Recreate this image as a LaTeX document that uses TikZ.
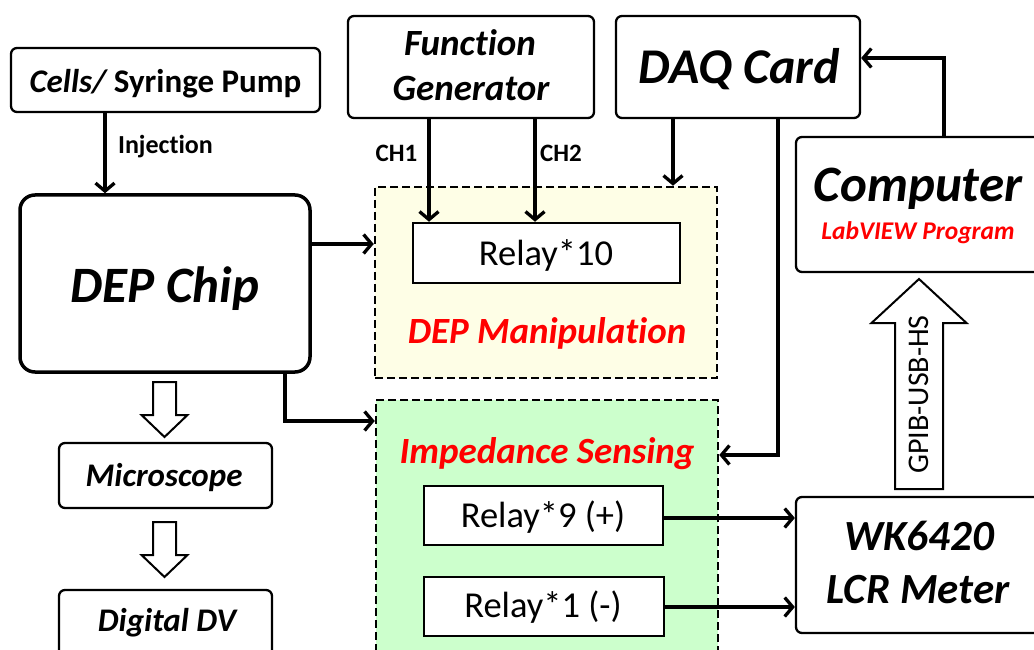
\documentclass[tikz,border=0pt]{standalone}
\usepackage{fontspec}
\setmainfont{Carlito}[Ligatures=NoCommon]
\usetikzlibrary{arrows.meta}
\definecolor{manipfill}{HTML}{FEFEE6}
\definecolor{impfill}{HTML}{CCFFCC}
\definecolor{labred}{HTML}{FF0000}
\newcommand{\fsz}[1]{\fontsize{#1}{#1}\selectfont}
\tikzset{
  box/.style={draw,line width=2.3pt,rounded corners=6pt,inner sep=0pt,fill=white},
  bigbox/.style={draw,line width=3.5pt,rounded corners=15pt,inner sep=0pt,fill=white},
  lbl/.style={inner sep=0pt,anchor=base},
  bi/.style={font=\bfseries\itshape\fsz{#1}},
  conn/.style={line width=3.3pt,-{Straight Barb[length=8pt,width=19pt]}},
  group/.style={draw,line width=2.5pt,dash pattern=on 8pt off 4pt,inner sep=0pt},
  relaybox/.style={draw,line width=2.5pt,inner sep=0pt,fill=white},
  hollowline/.style={draw,line width=2pt,fill=white,line join=miter},
  pics/downarrow/.style={code={
    \draw[hollowline] (-11.5,0) -- (11.5,0) -- (11.5,33) -- (23,33) -- (0,55) -- (-23,33) -- (-11.5,33) -- cycle;}},
  pics/uparrow/.style={code={
    \draw[hollowline] (-24,0) -- (24,0) -- (24,-166) -- (47.5,-166) -- (0,-210) -- (-47.5,-166) -- (-24,-166) -- cycle;}}
}
\begin{document}
\begin{tikzpicture}[x=1pt,y=-1pt]
\useasboundingbox (0,0) rectangle (1034,650);
\clip (0,0) rectangle (1034,650);
% groups
\node[group,fill=manipfill,minimum width=342pt,minimum height=191pt] (manip) at (546,282.5) {};
\node[group,fill=impfill,minimum width=342pt,minimum height=260pt] (imp) at (547,530) {};
% boxes
\node[box,minimum width=309pt,minimum height=64pt] (pump) at (165.5,80) {};
\node[bigbox,minimum width=290pt,minimum height=177pt] (chip) at (165,283.5) {};
\node[box,minimum width=246pt,minimum height=102pt] (fg) at (471,67) {};
\node[box,minimum width=244pt,minimum height=102pt] (daq) at (738,67) {};
\node[box,minimum width=244pt,minimum height=135pt] (comp) at (918,204.5) {};
\node[relaybox,minimum width=267pt,minimum height=60pt] (r10) at (546.5,253) {};
\node[relaybox,minimum width=239pt,minimum height=59pt] (r9) at (543.5,515.5) {};
\node[relaybox,minimum width=240pt,minimum height=59pt] (r1) at (544,606.5) {};
\node[box,minimum width=213pt,minimum height=65pt] (micro) at (165.5,475.5) {};
\node[box,minimum width=213pt,minimum height=70pt] (ddv) at (165.5,625) {};
\node[box,minimum width=244pt,minimum height=136pt] (lcr) at (918,565) {};
% labels
\node[lbl,font=\bfseries\fsz{33}] (pumpT) at (165.5,93) {\itshape Cells/\upshape\ Syringe Pump};
\node[lbl,bi=37] (fgT1) at (470,56) {Function};
\node[lbl,bi=37] (fgT2) at (471,101) {Generator};
\node[lbl,bi=50] (daqT) at (739,84) {DAQ Card};
\node[lbl,bi=51] (compT) at (918,201) {Computer};
\node[lbl,bi=25.5,text=labred] (compT2) at (918,239) {LabVIEW Program};
\node[lbl,bi=51] (chipT) at (165,302) {DEP Chip};
\node[lbl,font=\fsz{36.5}] (r10T) at (546,265) {Relay*10};
\node[lbl,bi=37,text=labred] (manipT) at (547,343) {DEP Manipulation};
\node[lbl,bi=37,text=labred] (impT) at (547,463) {Impedance Sensing};
\node[lbl,font=\fsz{36.5}] (r9T) at (543,527) {Relay*9 (+)};
\node[lbl,font=\fsz{36.5}] (r1T) at (543,617) {Relay*1 (-)};
\node[lbl,bi=33] (microT) at (164,486) {Microscope};
\node[lbl,bi=33] (ddvT) at (167,631) {Digital DV};
\node[lbl,bi=43] (lcrT1) at (919,550) {WK6420};
\node[lbl,bi=43] (lcrT2) at (918,603) {LCR Meter};
% hollow arrows
\pic at (164.5,382) {downarrow};
\pic at (164.5,522) {downarrow};
\pic at (919,489) {uparrow};
\node[rotate=90,inner sep=0pt,font=\fsz{30}] (gpibT) at (919,394.5) {GPIB-USB-HS};
% connectors
\draw[conn] (105,0 |- pump.south) -- (105,0 |- chip.north);
\node[lbl,font=\bfseries\fsz{26}] (injT) at (165.5,154) {Injection};
\draw[conn] (429,0 |- fg.south) -- (429,0 |- r10.north);
\draw[conn] (535,0 |- fg.south) -- (535,0 |- r10.north);
\node[lbl,font=\bfseries\fsz{25}] (ch1) at (396.5,161) {CH1};
\node[lbl,font=\bfseries\fsz{25}] (ch2) at (561,161) {CH2};
\draw[conn] (673,0 |- daq.south) -- (673,0 |- manip.north);
\draw[conn] (778,0 |- daq.south) |- (imp.east |- 0,455);
\draw[conn] (944,0 |- comp.north) |- (daq.east |- 0,58);
\draw[conn] (chip.east |- 0,244) -- (manip.west |- 0,244);
\draw[conn] (285,0 |- chip.south) |- (imp.west |- 0,421);
\draw[conn] (r9.east |- 0,518) -- (lcr.west |- 0,518);
\draw[conn] (r1.east |- 0,607) -- (lcr.west |- 0,607);
\end{tikzpicture}
\end{document}
